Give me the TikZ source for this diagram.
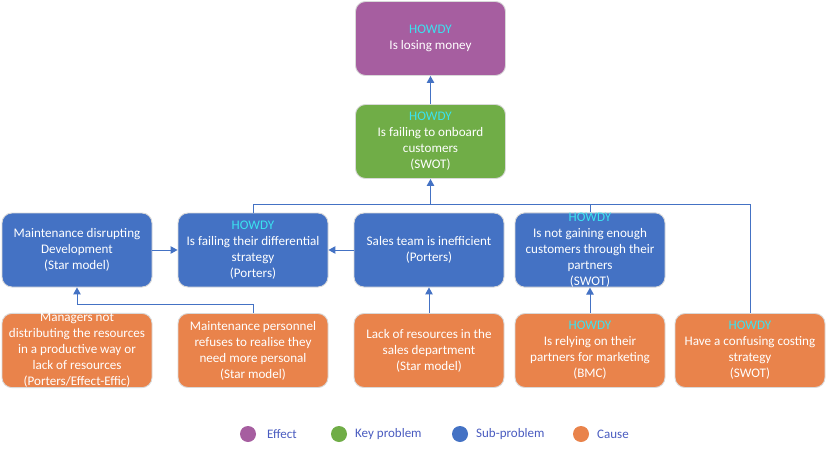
\documentclass[tikz,border=0pt]{standalone}
\usepackage{fontspec}
\setmainfont{Carlito}
\usetikzlibrary{arrows.meta}
\definecolor{cpurple}{HTML}{A65EA0}
\definecolor{cgreen}{HTML}{70AD47}
\definecolor{cblue}{HTML}{4472C4}
\definecolor{corange}{HTML}{E9834B}
\definecolor{chowdy}{HTML}{3BE3F0}
\definecolor{cline}{HTML}{4472C4}
\definecolor{clegend}{HTML}{4A5CC0}
\newcommand{\hw}{\textcolor{chowdy}{HOWDY}}
\tikzset{
  box/.style={rounded corners=10pt, draw=black!15, line width=0.9pt,
    minimum width=150pt, minimum height=74pt, text=white, align=center,
    inner sep=0pt, font=\fontsize{13.1}{16}\selectfont},
  effect/.style={box, fill=cpurple},
  keyp/.style={box, fill=cgreen},
  subp/.style={box, fill=cblue},
  cause/.style={box, fill=corange},
  conn/.style={draw=cline, line width=1pt},
  arr/.style={conn, -{Triangle[length=7pt,width=7.5pt]}},
  dot/.style={circle, inner sep=0pt, minimum size=16pt},
  legtext/.style={anchor=west, text=clegend, inner sep=0pt, font=\fontsize{13}{15}\selectfont}
}
\begin{document}
\begin{tikzpicture}[x=1pt,y=1pt]
\useasboundingbox[fill=white] (0,0) rectangle (828,-450);
\node[effect] (eff) at (430.5,-38.5) {\hw\\Is losing money};
\node[keyp] (key) at (430.5,-141.5) {\hw\\Is failing to onboard\\customers\\(SWOT)};
\node[subp] (b1) at (77,-250) {Maintenance disrupting\\Development\\(Star model)};
\node[subp] (b2) at (253,-250) {\hw\\Is failing their differential\\strategy\\(Porters)};
\node[subp] (b3) at (429,-250) {Sales team is inefficient\\(Porters)};
\node[subp] (b4) at (590,-250) {\hw\\Is not gaining enough\\customers through their\\partners\\(SWOT)};
\node[cause] (c1) at (77,-350.5) {Managers not\\distributing the resources\\in a productive way or\\lack of resources\\(Porters/Effect-Effic)};
\node[cause] (c2) at (253,-350.5) {Maintenance personnel\\refuses to realise they\\need more personal\\(Star model)};
\node[cause] (c3) at (429,-350.5) {Lack of resources in the\\sales department\\(Star model)};
\node[cause] (c4) at (590,-350.5) {\hw\\Is relying on their\\partners for marketing\\(BMC)};
\node[cause] (c5) at (750,-350.5) {\hw\\Have a confusing costing\\strategy\\(SWOT)};
\coordinate (hb) at (430.5,-204);
% connectors
\draw[arr] (key.north) -- (eff.south);
\draw[arr] (key.south |- hb) -- (key.south);
\draw[conn] (b2.north) -- (b2.north |- hb) -| (c5.north);
\draw[conn] (b4.north) -- (b4.north |- hb);
\draw[arr] (b1.east) -- (b2.west);
\draw[arr] (b3.west) -- (b2.east);
\draw[arr] (c2.north) -- ++(0,9) -| (b1.south);
\draw[arr] (c3.north) -- (b3.south);
\draw[arr] (c4.north) -- (b4.south);
% legend
\node[dot, fill=cpurple] (l1) at (248,-434) {};
\node[legtext] (t1) at (267,-434) {Effect};
\node[dot, fill=cgreen] (l2) at (339,-434) {};
\node[legtext] (t2) at (355,-434) {Key problem};
\node[dot, fill=cblue] (l3) at (460,-434) {};
\node[legtext] (t3) at (476,-434) {Sub-problem};
\node[dot, fill=corange] (l4) at (581,-434) {};
\node[legtext] (t4) at (597,-434) {Cause};
\end{tikzpicture}
\end{document}
